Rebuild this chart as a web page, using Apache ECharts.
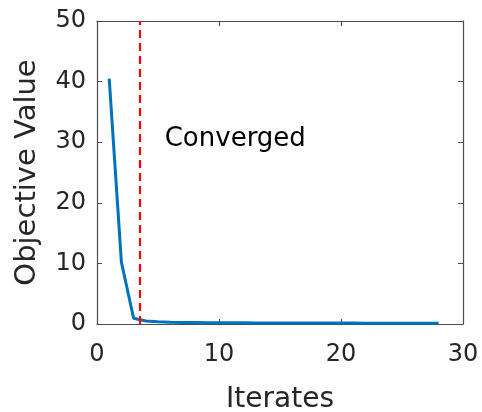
<!DOCTYPE html>
<html><head><meta charset="utf-8">
<script src="https://cdn.jsdelivr.net/npm/echarts@6/dist/echarts.min.js"></script>
<style>html,body{margin:0;padding:0;background:#fff}#c{width:482px;height:412px}</style>
</head><body><div id="c"></div>
<script>
const iterates = [1,2,3,4,5,6,7,8,9,10,11,12,13,14,15,16,17,18,19,20,21,22,23,24,25,26,27,28];
const objective = [40.5,10.2,0.95,0.5,0.36,0.3,0.26,0.24,0.22,0.21,0.2,0.19,0.18,0.18,0.17,0.17,0.16,0.16,0.15,0.15,0.15,0.14,0.14,0.14,0.13,0.13,0.13,0.13];
const convergedAt = 3.5;
const annotation = {text: 'Converged', x: 5.55, y: 30.5};
const xTicks = [0, 10, 20, 30];
const yTicks = [0, 10, 20, 30, 40, 50];

const FONT = 'DejaVu Sans';
const axisColor = '#4d4d4d';
const labelColor = '#262626';

function baseAxis(pos, isX, show) {
  return {
    type: 'value', position: pos,
    min: isX ? xTicks[0] : yTicks[0],
    max: isX ? xTicks[xTicks.length-1] : yTicks[yTicks.length-1],
    interval: 10,
    axisLine: {show: true, onZero: false, lineStyle: {color: axisColor, width: 1.2}},
    axisTick: {show: true, inside: true, length: 5, lineStyle: {color: axisColor, width: 1}},
    axisLabel: {show: show, color: labelColor, fontFamily: FONT, fontSize: 24, margin: isX ? 19 : 11},
    splitLine: {show: false}
  };
}

const chart = echarts.init(document.getElementById('c'), null, {renderer: 'canvas'});
const xBottom = Object.assign(baseAxis('bottom', true, true), {
  name: 'Iterates', nameLocation: 'middle', nameGap: 62,
  nameTextStyle: {fontFamily: FONT, fontSize: 28, color: labelColor}
});
const yLeft = Object.assign(baseAxis('left', false, true), {
  name: 'Objective Value', nameLocation: 'middle', nameGap: 55,
  nameTextStyle: {fontFamily: FONT, fontSize: 29, color: labelColor}
});
chart.setOption({
  animation: false,
  grid: {left: 97, right: 19, top: 21, bottom: 88, containLabel: false, outerBoundsMode: 'none'},
  xAxis: [xBottom, baseAxis('top', true, false)],
  yAxis: [yLeft, baseAxis('right', false, false)],
  series: [{
    type: 'line',
    data: iterates.map((x, i) => [x, objective[i]]),
    showSymbol: false, symbol: 'none',
    lineStyle: {color: '#0072BD', width: 3},
    markLine: {
      silent: true, symbol: 'none',
      label: {show: false},
      lineStyle: {color: '#FF0000', type: [8, 5], width: 2.2},
      data: [{xAxis: convergedAt}]
    },
    markPoint: {
      symbol: 'circle', symbolSize: 0,
      data: [{coord: [annotation.x, annotation.y], value: annotation.text}],
      label: {show: true, formatter: annotation.text, position: 'right', distance: 0,
        fontFamily: FONT, fontSize: 26, color: '#000'}
    }
  }]
});
</script></body></html>
